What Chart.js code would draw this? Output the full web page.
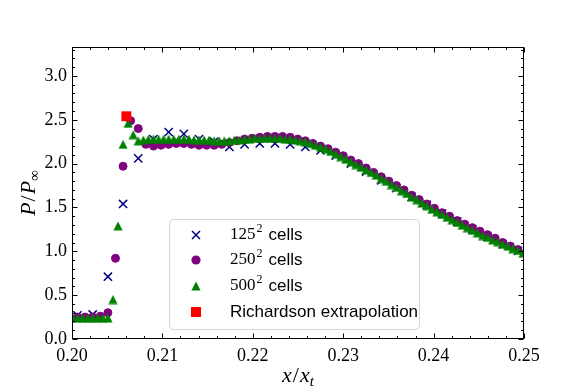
<!DOCTYPE html>
<html>
<head>
<meta charset="utf-8">
<script src="https://cdn.jsdelivr.net/npm/chart.js"></script>
<style>
  html, body { margin: 0; padding: 0; background: #fff; }
  #wrap { width: 581px; height: 388px; }
</style>
</head>
<body>
<div id="wrap"><canvas id="shockChart" width="581" height="388"></canvas></div>
<script>
// 125^2 cells
const xCoarse = [0.20061, 0.20229, 0.20397, 0.20565, 0.20733, 0.20901, 0.21069, 0.21237, 0.21405, 0.21573,
  0.21741, 0.21909, 0.22077, 0.22245, 0.22413, 0.22581, 0.22749, 0.22917, 0.23085, 0.23253,
  0.23421, 0.23589, 0.23757, 0.23925, 0.24093, 0.24261, 0.24429, 0.24597, 0.24765, 0.24933];
const yCoarse = [0.27, 0.28, 0.71, 1.54, 2.06, 2.28, 2.36, 2.34, 2.28, 2.25,
  2.19, 2.22, 2.23, 2.23, 2.22, 2.19, 2.15, 2.09, 2.00, 1.91,
  1.81, 1.72, 1.62, 1.53, 1.43, 1.34, 1.25, 1.165, 1.08, 1.005];

// 250^2 cells
const xMedium = [0.20061, 0.20145, 0.20229, 0.20313, 0.20397, 0.20481, 0.20565, 0.20649, 0.20733, 0.20817,
  0.20901, 0.20985, 0.21069, 0.21153, 0.21237, 0.21321, 0.21405, 0.21489, 0.21573, 0.21657,
  0.21741, 0.21825, 0.21909, 0.21993, 0.22077, 0.22161, 0.22245, 0.22329, 0.22413, 0.22497,
  0.22581, 0.22665, 0.22749, 0.22833, 0.22917, 0.23001, 0.23085, 0.23169, 0.23253, 0.23337,
  0.23421, 0.23505, 0.23589, 0.23673, 0.23757, 0.23841, 0.23925, 0.24009, 0.24093, 0.24177,
  0.24261, 0.24345, 0.24429, 0.24513, 0.24597, 0.24681, 0.24765, 0.24849, 0.24933];
const yMedium = [0.25, 0.25, 0.25, 0.26, 0.30, 0.92, 1.97, 2.49, 2.40, 2.22,
  2.20, 2.21, 2.22, 2.23, 2.23, 2.22, 2.21, 2.21, 2.21, 2.22,
  2.24, 2.26, 2.28, 2.29, 2.30, 2.31, 2.31, 2.31, 2.30, 2.28,
  2.26, 2.23, 2.20, 2.17, 2.13, 2.09, 2.04, 2.00, 1.95, 1.90,
  1.85, 1.80, 1.75, 1.70, 1.64, 1.59, 1.54, 1.49, 1.44, 1.40,
  1.35, 1.31, 1.27, 1.23, 1.19, 1.15, 1.10, 1.06, 1.02];

// 500^2 cells
const xFine = [0.20005, 0.20061, 0.20117, 0.20173, 0.20229, 0.20285, 0.20341, 0.20397, 0.20453, 0.20509,
  0.20565, 0.20621, 0.20677, 0.20733, 0.20789, 0.20845, 0.20901, 0.20957, 0.21013, 0.21069,
  0.21125, 0.21181, 0.21237, 0.21293, 0.21349, 0.21405, 0.21461, 0.21517, 0.21573, 0.21629,
  0.21685, 0.21741, 0.21797, 0.21853, 0.21909, 0.21965, 0.22021, 0.22077, 0.22133, 0.22189,
  0.22245, 0.22301, 0.22357, 0.22413, 0.22469, 0.22525, 0.22581, 0.22637, 0.22693, 0.22749,
  0.22805, 0.22861, 0.22917, 0.22973, 0.23029, 0.23085, 0.23141, 0.23197, 0.23253, 0.23309,
  0.23365, 0.23421, 0.23477, 0.23533, 0.23589, 0.23645, 0.23701, 0.23757, 0.23813, 0.23869,
  0.23925, 0.23981, 0.24037, 0.24093, 0.24149, 0.24205, 0.24261, 0.24317, 0.24373, 0.24429,
  0.24485, 0.24541, 0.24597, 0.24653, 0.24709, 0.24765, 0.24821, 0.24877, 0.24933, 0.24989];
const yFine = [0.24, 0.24, 0.24, 0.24, 0.24, 0.24, 0.24, 0.24, 0.45, 1.29,
  2.22, 2.46, 2.33, 2.26, 2.27, 2.28, 2.28, 2.28, 2.28, 2.28,
  2.28, 2.28, 2.28, 2.28, 2.27, 2.27, 2.27, 2.27, 2.26, 2.26,
  2.26, 2.26, 2.27, 2.27, 2.28, 2.28, 2.29, 2.29, 2.29, 2.29,
  2.29, 2.29, 2.28, 2.28, 2.27, 2.26, 2.25, 2.23, 2.21, 2.19,
  2.17, 2.14, 2.11, 2.08, 2.05, 2.02, 1.99, 1.96, 1.93, 1.90,
  1.87, 1.83, 1.80, 1.76, 1.73, 1.69, 1.66, 1.62, 1.59, 1.55,
  1.52, 1.48, 1.45, 1.42, 1.39, 1.36, 1.33, 1.30, 1.27, 1.24,
  1.21, 1.18, 1.16, 1.13, 1.11, 1.08, 1.06, 1.03, 1.01, 0.98];

// Richardson extrapolation
const xRich = [0.20601];
const yRich = [2.54];

const xTicks = [0.20, 0.21, 0.22, 0.23, 0.24, 0.25];
const yTicks = [0.0, 0.5, 1.0, 1.5, 2.0, 2.5, 3.0];
const legendNums = ['125', '250', '500'];
const legendRich = 'Richardson extrapolation';

const NAVY = '#000080', PURPLE = '#800080', GREEN = '#008000', RED = '#ff0000';
const SERIF = '"Liberation Serif", "DejaVu Serif", serif';
const SANS = '"Liberation Sans", "DejaVu Sans", sans-serif';

function pts(xs, ys) { return xs.map((x, i) => ({ x: x, y: ys[i] })); }

// matplotlib style "^" marker
function makeTriangle(color, size) {
  const c = document.createElement('canvas');
  c.width = size; c.height = size;
  const g = c.getContext('2d');
  g.fillStyle = color;
  g.beginPath();
  g.moveTo(size / 2, 0.4);
  g.lineTo(size - 0.4, size - 0.4);
  g.lineTo(0.4, size - 0.4);
  g.closePath();
  g.fill();
  return c;
}
const triangle = makeTriangle(GREEN, 10);

// draws a run of text parts (for math-like labels)
function drawParts(ctx, parts, x, y, align) {
  let total = 0;
  parts.forEach(p => { ctx.font = p.font; total += ctx.measureText(p.t).width + (p.gap || 0); });
  let cx = align === 'center' ? x - total / 2 : x;
  parts.forEach(p => {
    ctx.font = p.font;
    ctx.fillText(p.t, cx, y + (p.dy || 0));
    cx += ctx.measureText(p.t).width + (p.gap || 0);
  });
}

const decorations = {
  id: 'decorations',
  afterDraw(chart) {
    const { ctx, chartArea: a, scales: { x, y } } = chart;
    ctx.save();
    ctx.strokeStyle = '#000';
    ctx.lineWidth = 1;
    const L = Math.round(a.left) + 0.5, R = Math.round(a.right) - 0.5;
    const T = Math.round(a.top) + 0.5, B = Math.round(a.bottom) - 0.5;
    ctx.strokeRect(L, T, R - L, B - T);

    ctx.beginPath();
    // x ticks, inward, top and bottom
    for (let i = 0; i <= 25; i++) {
      const px = Math.round(x.getPixelForValue(0.2 + i * 0.002)) + 0.5;
      const len = i % 5 === 0 ? 5 : 2.5;
      ctx.moveTo(px, B); ctx.lineTo(px, B - len);
      ctx.moveTo(px, T); ctx.lineTo(px, T + len);
    }
    // y ticks, inward, left and right
    for (let i = 0; i <= 33; i++) {
      const py = Math.round(y.getPixelForValue(i * 0.1)) + 0.5;
      const len = i % 5 === 0 ? 5 : 2.5;
      ctx.moveTo(L, py); ctx.lineTo(L + len, py);
      ctx.moveTo(R, py); ctx.lineTo(R - len, py);
    }
    ctx.stroke();

    // axis titles
    ctx.fillStyle = '#000';
    ctx.textBaseline = 'alphabetic';
    ctx.textAlign = 'left';
    const it = 'italic 22px ' + SERIF, up = '22px ' + SERIF, sub = 'italic 15px ' + SERIF;
    drawParts(ctx, [{ t: 'x', font: it, gap: 1 }, { t: '/', font: up, gap: 1 }, { t: 'x', font: it }, { t: 't', font: sub, dy: 4 }],
      (a.left + a.right) / 2, 382, 'center');
    ctx.save();
    ctx.translate(35, (a.top + a.bottom) / 2);
    ctx.rotate(-Math.PI / 2);
    drawParts(ctx, [{ t: 'P', font: it, gap: 1 }, { t: '/', font: up, gap: 1 }, { t: 'P', font: it }, { t: '\u221e', font: '15px ' + SERIF, dy: 4 }],
      0, 0, 'center');
    ctx.restore();

    // legend
    const lx = 169.5, ly = 219.5, lw = 250, lh = 110, r = 4;
    ctx.beginPath();
    ctx.moveTo(lx + r, ly);
    ctx.arcTo(lx + lw, ly, lx + lw, ly + lh, r);
    ctx.arcTo(lx + lw, ly + lh, lx, ly + lh, r);
    ctx.arcTo(lx, ly + lh, lx, ly, r);
    ctx.arcTo(lx, ly, lx + lw, ly, r);
    ctx.closePath();
    ctx.fillStyle = 'rgba(255,255,255,0.8)';
    ctx.fill();
    ctx.strokeStyle = '#d6d6d6';
    ctx.stroke();

    const mx = 196, rows = [235, 260, 286, 312], tx = 230;
    // markers
    ctx.strokeStyle = NAVY; ctx.lineWidth = 1.5;
    ctx.beginPath();
    ctx.moveTo(mx - 4, rows[0] - 4); ctx.lineTo(mx + 4, rows[0] + 4);
    ctx.moveTo(mx - 4, rows[0] + 4); ctx.lineTo(mx + 4, rows[0] - 4);
    ctx.stroke();
    ctx.fillStyle = PURPLE;
    ctx.beginPath(); ctx.arc(mx, rows[1], 4.6, 0, Math.PI * 2); ctx.fill();
    ctx.drawImage(triangle, mx - 5, rows[2] - 5);
    ctx.fillStyle = RED;
    ctx.fillRect(mx - 5, rows[3] - 5, 10, 10);

    // labels
    ctx.fillStyle = '#000';
    ctx.textBaseline = 'middle';
    legendNums.forEach((n, i) => {
      drawParts(ctx, [
        { t: n, font: '17px ' + SERIF, gap: 1 },
        { t: '2', font: '12px ' + SERIF, dy: -6, gap: 6 },
        { t: 'cells', font: '17px ' + SANS }
      ], tx, rows[i], 'left');
    });
    ctx.font = '17px ' + SANS;
    ctx.fillText(legendRich, tx, rows[3]);
    ctx.restore();
  }
};

const chart = new Chart(document.getElementById('shockChart'), {
  type: 'scatter',
  data: {
    datasets: [{
      label: 'Richardson extrapolation',
      data: pts(xRich, yRich),
      pointStyle: 'rect',
      pointRadius: 7,
      pointBackgroundColor: RED,
      pointBorderColor: RED,
      pointBorderWidth: 0,
      order: 0,
      clip: 0
    }, {
      label: '500\u00b2 cells',
      data: pts(xFine, yFine),
      pointStyle: triangle,
      pointRadius: 5,
      order: 1,
      clip: 0
    }, {
      label: '250\u00b2 cells',
      data: pts(xMedium, yMedium),
      pointStyle: 'circle',
      pointRadius: 4,
      pointBackgroundColor: PURPLE,
      pointBorderColor: PURPLE,
      pointBorderWidth: 1,
      order: 2,
      clip: 0
    }, {
      label: '125\u00b2 cells',
      data: pts(xCoarse, yCoarse),
      pointStyle: 'crossRot',
      pointRadius: 5.8,
      pointBorderColor: NAVY,
      pointBorderWidth: 1.5,
      order: 3,
      clip: 0
    }]
  },
  options: {
    responsive: false,
    animation: false,
    events: [],
    layout: { padding: { left: 0, top: 47, right: 57, bottom: 0 } },
    plugins: { legend: { display: false }, tooltip: { enabled: false } },
    scales: {
      x: {
        type: 'linear',
        min: 0.2,
        max: 0.25,
        afterFit(scale) { scale.height = 49; },
        afterBuildTicks(scale) { scale.ticks = xTicks.map(v => ({ value: v })); },
        grid: { display: false, drawTicks: false },
        border: { display: false },
        ticks: {
          autoSkip: false, maxRotation: 0, padding: 6, color: '#000',
          font: { family: SERIF, size: 18 },
          callback: v => v.toFixed(2)
        }
      },
      y: {
        type: 'linear',
        min: 0,
        max: 3.33,
        afterFit(scale) { scale.width = 72; },
        afterBuildTicks(scale) { scale.ticks = yTicks.map(v => ({ value: v })); },
        grid: { display: false, drawTicks: false },
        border: { display: false },
        ticks: {
          autoSkip: false, padding: 5, color: '#000',
          font: { family: SERIF, size: 18 },
          callback: v => v.toFixed(1)
        }
      }
    }
  },
  plugins: [decorations]
});
</script>
</body>
</html>
